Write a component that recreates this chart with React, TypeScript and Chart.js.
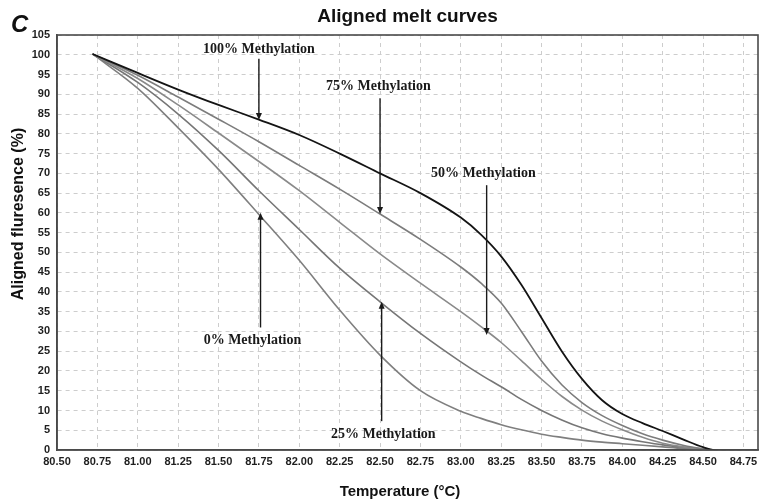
import React, { useEffect, useRef } from 'react';
import { Chart, registerables } from 'chart.js';

Chart.register(...registerables);

const titleText = 'Aligned melt curves';
const panelLetter = 'C';
const xTitle = 'Temperature (°C)';
const yTitle = 'Aligned fluresence (%)';

const temps = [80.72, 81.0, 81.25, 81.5, 81.75, 82.0, 82.25, 82.5, 82.75, 83.0, 83.125, 83.25, 83.375, 83.5, 83.625, 83.75, 83.875, 84.0, 84.125, 84.25, 84.375, 84.5, 84.6, 84.78];

const meth100 = [100.2, 95.4, 91.2, 87.3, 83.6, 79.7, 75.0, 70.0, 65.0, 58.8, 54.5, 49.0, 41.8, 33.4, 25.0, 18.0, 12.6, 9.1, 6.8, 4.8, 2.7, 0.7, -0.2, -0.3];
const meth75 = [100.2, 94.8, 89.3, 83.7, 78.0, 72.0, 66.0, 59.7, 53.3, 46.3, 42.2, 37.2, 30.0, 22.5, 16.5, 12.0, 8.7, 6.2, 4.1, 2.5, 1.2, 0.3, -0.2, -0.3];
const meth50 = [100.2, 94.0, 87.3, 80.2, 73.0, 65.6, 57.6, 49.6, 42.2, 35.0, 31.2, 27.2, 22.6, 17.9, 13.6, 10.1, 7.3, 5.1, 3.2, 1.7, 0.8, 0.2, -0.2, -0.3];
const meth25 = [100.2, 93.0, 85.0, 75.8, 65.6, 55.8, 46.0, 37.5, 29.5, 22.3, 19.0, 16.0, 12.8, 10.0, 7.6, 5.6, 4.1, 3.0, 2.1, 1.3, 0.7, 0.3, -0.2, -0.3];
const meth0 = [100.2, 91.5, 81.5, 71.0, 59.6, 48.0, 35.4, 24.0, 15.0, 9.8, 8.0, 6.4, 5.1, 4.0, 3.2, 2.5, 2.0, 1.6, 1.2, 0.8, 0.4, 0.1, -0.2, -0.3];

const seriesNames = ['100% Methylation', '75% Methylation', '50% Methylation', '25% Methylation', '0% Methylation'];
const seriesValues = [meth100, meth75, meth50, meth25, meth0];
const seriesColors = ['#141414', '#7c7c7c', '#8a8a8a', '#767676', '#7f7f7f'];

const xTicks = [80.5, 80.75, 81.0, 81.25, 81.5, 81.75, 82.0, 82.25, 82.5, 82.75, 83.0, 83.25, 83.5, 83.75, 84.0, 84.25, 84.5, 84.75];

// annotations (data coordinates)
const noteLabels = ['100% Methylation', '75% Methylation', '50% Methylation', '0% Methylation', '25% Methylation'];
const noteLabelX = [81.75, 82.49, 83.14, 81.71, 82.52];
const noteLabelY = [101.4, 91.9, 70.1, 27.8, 3.9];
const arrowX = [81.75, 82.5, 83.16, 81.76, 82.51];
const arrowFromY = [99.0, 89.0, 67.0, 31.0, 7.3];
const arrowToY = [83.5, 59.7, 29.1, 60.0, 37.5];

const overlay = {
  id: 'overlay',
  afterDraw(chart: any) {
    const { ctx, chartArea: a, scales } = chart;
    const x = scales.x;
    const y = scales.y;
    ctx.save();
    // plot frame
    ctx.strokeStyle = '#4a4a4a';
    ctx.lineWidth = 1.6;
    ctx.setLineDash([]);
    ctx.strokeRect(a.left, a.top, a.right - a.left, a.bottom - a.top);

    // title
    ctx.fillStyle = '#111';
    ctx.textAlign = 'center';
    ctx.textBaseline = 'alphabetic';
    ctx.font = 'bold 19px "Liberation Sans", Arial, sans-serif';
    ctx.fillText(titleText, (a.left + a.right) / 2, 22);

    // panel letter
    ctx.textAlign = 'left';
    ctx.font = 'italic bold 24px "Liberation Sans", Arial, sans-serif';
    ctx.fillText(panelLetter, 11, 32);

    // x title
    ctx.textAlign = 'center';
    ctx.textBaseline = 'middle';
    ctx.font = 'bold 15px "Liberation Sans", Arial, sans-serif';
    ctx.fillText(xTitle, 400, 492);

    // y title
    ctx.save();
    ctx.translate(19, 214);
    ctx.rotate(-Math.PI / 2);
    ctx.font = 'bold 16px "Liberation Sans", Arial, sans-serif';
    ctx.fillText(yTitle, 0, 0);
    ctx.restore();

    // annotations
    ctx.font = 'bold 14px "Liberation Serif", "Times New Roman", serif';
    ctx.fillStyle = '#1a1a1a';
    ctx.strokeStyle = '#1a1a1a';
    ctx.lineWidth = 1.4;
    for (let i = 0; i < noteLabels.length; i++) {
      ctx.textAlign = 'center';
      ctx.textBaseline = 'middle';
      ctx.fillText(noteLabels[i], x.getPixelForValue(noteLabelX[i]), y.getPixelForValue(noteLabelY[i]));
      const ax = x.getPixelForValue(arrowX[i]);
      const y0 = y.getPixelForValue(arrowFromY[i]);
      const y1 = y.getPixelForValue(arrowToY[i]);
      const dir = y1 > y0 ? 1 : -1;
      ctx.beginPath();
      ctx.moveTo(ax, y0);
      ctx.lineTo(ax, y1 - dir * 5);
      ctx.stroke();
      ctx.beginPath();
      ctx.moveTo(ax, y1);
      ctx.lineTo(ax - 3, y1 - dir * 7);
      ctx.lineTo(ax + 3, y1 - dir * 7);
      ctx.closePath();
      ctx.fill();
    }
    ctx.restore();
  },
};

export default function App() {
  const ref = useRef<HTMLCanvasElement>(null);
  useEffect(() => {
    document.body.style.margin = '0';
    const tickFont = { family: '"Liberation Sans", Arial, sans-serif', size: 11, weight: 'bold' as const };
    const chart = new Chart(ref.current as HTMLCanvasElement, {
      type: 'line',
      data: {
        datasets: seriesNames.map((n, i) => ({
          label: n,
          data: temps.map((t, j) => ({ x: t, y: seriesValues[i][j] })),
          borderColor: seriesColors[i],
          backgroundColor: seriesColors[i],
          borderWidth: i === 0 ? 1.8 : 1.6,
          pointRadius: 0,
          cubicInterpolationMode: 'monotone' as const,
          fill: false,
        })),
      },
      options: {
        animation: false,
        responsive: false,
        maintainAspectRatio: false,
        layout: { padding: { top: 35, right: 7, left: 0, bottom: 0 } },
        plugins: {
          legend: { display: false },
          title: { display: false },
          tooltip: { enabled: false },
        },
        scales: {
          x: {
            type: 'linear',
            min: 80.5,
            max: 84.84,
            afterBuildTicks: (s: any) => {
              s.ticks = xTicks.map((v) => ({ value: v }));
            },
            afterFit: (s: any) => {
              s.height = 54;
            },
            ticks: {
              callback: (v: any) => Number(v).toFixed(2),
              font: tickFont,
              color: '#1e1e1e',
              padding: 5,
              maxRotation: 0,
              autoSkip: false,
            },
            grid: { color: '#cdcdcd', drawTicks: false, lineWidth: 1 },
            border: { display: true, color: '#4a4a4a', width: 1.6, dash: [4, 4] },
          },
          y: {
            type: 'linear',
            min: 0,
            max: 105,
            afterFit: (s: any) => {
              s.width = 57;
            },
            ticks: {
              stepSize: 5,
              font: tickFont,
              color: '#1e1e1e',
              padding: 7,
              autoSkip: false,
            },
            grid: { color: '#cdcdcd', drawTicks: false, lineWidth: 1 },
            border: { display: true, color: '#4a4a4a', width: 1.6, dash: [4, 4] },
          },
        },
      },
      plugins: [overlay],
    });
    return () => chart.destroy();
  }, []);
  return (
    <div style={{ position: 'absolute', left: 0, top: 0, width: 765, height: 504, background: '#fff' }}>
      <canvas ref={ref} width={765} height={504} style={{ display: 'block', width: 765, height: 504 }} />
    </div>
  );
}
